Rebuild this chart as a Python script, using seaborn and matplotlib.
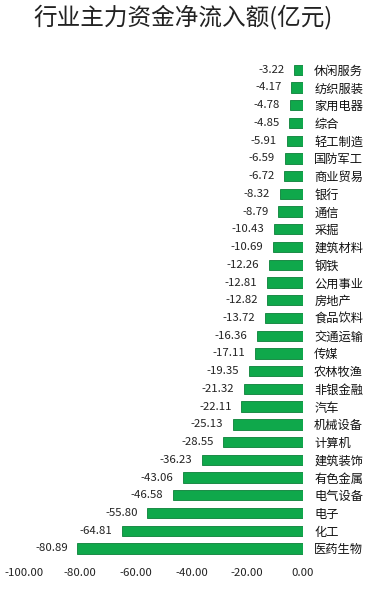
import seaborn as sns
import pandas as pd
import matplotlib.pyplot as plt

sectors = ["休闲服务", "纺织服装", "家用电器", "综合", "轻工制造", "国防军工", "商业贸易",
           "银行", "通信", "采掘", "建筑材料", "钢铁", "公用事业", "房地产", "食品饮料",
           "交通运输", "传媒", "农林牧渔", "非银金融", "汽车", "机械设备", "计算机",
           "建筑装饰", "有色金属", "电气设备", "电子", "化工", "医药生物"]
net_flow = [-3.22, -4.17, -4.78, -4.85, -5.91, -6.59, -6.72, -8.32, -8.79, -10.43,
            -10.69, -12.26, -12.81, -12.82, -13.72, -16.36, -17.11, -19.35, -21.32,
            -22.11, -25.13, -28.55, -36.23, -43.06, -46.58, -55.80, -64.81, -80.89]
x_ticks = [-100, -80, -60, -40, -20, 0]

sns.set_theme(style="white")
plt.rcParams['font.family'] = ['Noto Sans CJK SC', 'DejaVu Sans']

df = pd.DataFrame({"sector": sectors, "flow": net_flow})

W, H = 373, 596
fig = plt.figure(figsize=(W / 100, H / 100), dpi=100)
# axes box in pixels: x from -100 -> 24px to 0 -> 303px
ax = fig.add_axes([24 / W, 1 - 560 / H, (303 - 24) / W, (560 - 57) / H])

sns.barplot(data=df, x="flow", y="sector", orient="h", color="#0fa84b",
            saturation=1, width=0.58, edgecolor="#0a8038", linewidth=0.6, ax=ax)

ax.bar_label(ax.containers[0], labels=[f"{v:.2f}" for v in net_flow],
             padding=7, fontsize=8.2, color="#222222")

ax.set_xlim(-100, 0)
ax.set_ylim(len(sectors) - 0.35, -0.72)
ax.set_xticks(x_ticks)
ax.set_xticklabels([f"{t:.2f}" for t in x_ticks], fontsize=8.2, color="#222222")
ax.yaxis.tick_right()
ax.tick_params(axis="y", length=0, pad=8, labelsize=8.8, labelcolor="#111111")
ax.tick_params(axis="x", length=0, pad=6)
ax.set_xlabel("")
ax.set_ylabel("")
for s in ax.spines.values():
    s.set_visible(False)

fig.text(183 / W, 1 - 17 / H, "行业主力资金净流入额(亿元)", ha="center", va="center",
         fontsize=17, color="#222222")

fig.savefig("out.png", dpi=100)
